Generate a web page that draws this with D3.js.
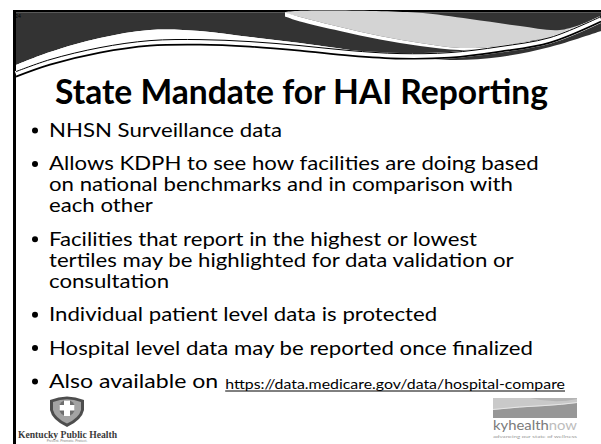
<!DOCTYPE html>
<html>
<head>
<meta charset="utf-8">
<script src="https://cdn.jsdelivr.net/npm/d3@7"></script>
<style>
  body { margin: 0; background: #fff; }
  svg { display: block; }
</style>
</head>
<body>
<div id="slide"></div>
<script>
// slide content
const slideNo = "24";
const title = "State Mandate for HAI Reporting";
const bullets = [
  ["NHSN Surveillance data"],
  ["Allows KDPH to see how facilities are doing based",
   "on national benchmarks and in comparison with",
   "each other"],
  ["Facilities that report in the highest or lowest",
   "tertiles may be highlighted for data validation or",
   "consultation"],
  ["Individual patient level data is protected"],
  ["Hospital level data may be reported once finalized"],
  ["Also available on"]
];
const linkText = "https://data.medicare.gov/data/hospital-compare";
const leftLogo = ["Kentucky Public Health", "Prevent.   Promote.   Protect."];
const rightLogo = ["kyhealth", "now", "advancing our state of wellness"];

// header swoosh outline (shape, not data)
const edgeX   = [16, 50, 100, 150, 200, 250, 300, 350, 400, 450, 500, 550, 601];
const darkY   = [65, 52, 38, 30, 31, 37, 43, 50, 55, 60, 57, 47, 31];
const swooshY = [71, 59, 47, 40, 39, 41, 45, 50, 53, 52, 46, 37, 16];
const wedgeTop = [[285, 12.5], [415, 12.5], [470, 19], [520, 26], [560, 30], [592, 21]];
const wedgeLow = [[592, 21], [560, 35], [530, 41], [500, 46], [460, 48], [420, 43], [380, 36], [340, 27], [300, 17], [285, 12.5]];
const stripeW  = [1, 1, 1.5, 2, 3, 3.5, 4, 4.5, 4];

const W = 601, H = 444;
const svg = d3.select("#slide").append("svg").attr("width", W).attr("height", H);

// frame
svg.append("rect").attr("x", 13).attr("y", 10).attr("width", W).attr("height", H).attr("fill", "#000");
svg.append("rect").attr("x", 16).attr("y", 12.5).attr("width", W).attr("height", H).attr("fill", "#fff");

// header
let pts = edgeX.map((x, i) => ({ x: x, d: darkY[i], s: swooshY[i] }));
let curve = d3.curveCatmullRom;

svg.append("path")
  .attr("d", d3.area().x(d => d.x).y0(12.5).y1(d => d.d).curve(curve)(pts))
  .attr("fill", "#333");

let left = pts.filter(d => d.x <= 350);
svg.append("path")
  .attr("d", d3.area().x(d => d.x).y0(d => d.d).y1(d => d.s).curve(curve)(left))
  .attr("fill", "#fff");

let poly = wedgeTop.concat(wedgeLow.slice(1));
svg.append("path")
  .attr("d", d3.line().curve(d3.curveCatmullRomClosed)(poly.slice(0, -1)))
  .attr("fill", "#d4d4d4");

let stripe = wedgeLow.slice(2).map((p, i) => ({ x: p[0], y: p[1], w: stripeW[i + 1] }));
svg.append("path")
  .attr("d", d3.area().x(d => d.x).y0(d => d.y).y1(d => d.y + d.w).curve(curve)(stripe))
  .attr("fill", "#fff");

let lineAt = off => d3.line().x(d => d.x).y(d => d.s + off).curve(curve)(pts);
svg.append("path").attr("d", lineAt(3.3)).attr("fill", "none").attr("stroke", "#fff").attr("stroke-width", 6.6);
svg.append("path").attr("d", lineAt(0.6)).attr("fill", "none").attr("stroke", "#000").attr("stroke-width", 1);
svg.append("path").attr("d", lineAt(5.6)).attr("fill", "none").attr("stroke", "#000").attr("stroke-width", 1.7);

svg.append("text").attr("x", 15).attr("y", 17.5)
  .attr("font-family", "Lato, sans-serif").attr("font-size", 5).attr("fill", "#000")
  .text(slideNo);

// title
svg.append("text")
  .attr("x", 55).attr("y", 104)
  .attr("font-family", "Lato, sans-serif").attr("font-weight", "bold").attr("font-size", 34)
  .attr("textLength", 493).attr("lengthAdjust", "spacingAndGlyphs")
  .attr("fill", "#000")
  .text(title);

// bullets
let firstBase = 137, pitch = 21, paraGap = 12.4, textX = 49, fs = 19;
let rows = [];
bullets.forEach((para, p) => {
  para.forEach((t, j) => {
    rows.push({ t: t, p: p, first: j === 0, n: rows.length });
  });
});
let yOf = d => firstBase + d.n * pitch + d.p * paraGap;

let body = svg.append("g")
  .attr("font-family", "Lato, sans-serif").attr("fill", "#000");

let texts = body.selectAll("text.row").data(rows).enter().append("text")
  .attr("class", "row")
  .attr("x", textX)
  .attr("y", yOf)
  .attr("font-size", d => d.p === bullets.length - 1 ? fs * 1.04 : fs)
  .text(d => d.t);

// scale widths to the reference line
let natural = new Map();
texts.each(function (d) { natural.set(d, this.getComputedTextLength()); });
let sx = 484 / natural.get(rows.find(d => d.t.startsWith("Hospital")));
texts
  .attr("textLength", d => natural.get(d) * sx)
  .attr("lengthAdjust", "spacingAndGlyphs");

body.selectAll("circle").data(rows.filter(d => d.first)).enter().append("circle")
  .attr("cx", 35).attr("cy", d => yOf(d) - 6.5).attr("r", 3);

// link
let lastRow = rows[rows.length - 1];
let linkX = textX + natural.get(lastRow) * sx + 7;
let linkEnd = 565;
let linkY = yOf(lastRow) + 0.5;
body.append("text")
  .attr("x", linkX).attr("y", linkY)
  .attr("font-size", 14)
  .attr("textLength", linkEnd - linkX).attr("lengthAdjust", "spacingAndGlyphs")
  .text(linkText);
body.append("line")
  .attr("x1", linkX).attr("x2", linkEnd)
  .attr("y1", linkY + 2.5).attr("y2", linkY + 2.5)
  .attr("stroke", "#000").attr("stroke-width", 1);

// Kentucky Public Health logo
let kph = svg.append("g");
kph.append("path")
  .attr("d", "M50,400 Q67,393 84,400 L84,410 Q82,420 67,427 Q52,420 50,410 Z")
  .attr("fill", "#4d4d4d");
kph.append("path")
  .attr("d", "M53,402 Q67,396.5 81,402 L81,410 Q79,418 67,423.5 Q55,418 53,410 Z")
  .attr("fill", "#a3a3a3");
kph.append("circle").attr("cx", 67).attr("cy", 408).attr("r", 8).attr("fill", "#6e6e6e");
kph.append("path")
  .attr("d", "M64,400.5 H70 V405 H74.5 V410.5 H70 V416 H64 V410.5 H59.5 V405 H64 Z")
  .attr("fill", "#fff");
kph.append("text")
  .attr("x", 18).attr("y", 437.5)
  .attr("font-family", "'Liberation Serif', serif").attr("font-weight", "bold").attr("font-size", 10)
  .attr("textLength", 99).attr("lengthAdjust", "spacingAndGlyphs")
  .attr("fill", "#3a3a3a")
  .text(leftLogo[0]);
kph.append("text")
  .attr("x", 67).attr("y", 442).attr("text-anchor", "middle")
  .attr("font-family", "Lato, sans-serif").attr("font-size", 3.5).attr("fill", "#888")
  .text(leftLogo[1]);

// kyhealthnow logo
let ky = svg.append("g");
ky.append("rect").attr("x", 493).attr("y", 398).attr("width", 84).attr("height", 20).attr("fill", "#c9c9c9");
ky.append("path")
  .attr("d", "M530,398 Q555,404 577,399 L577,398 Z").attr("fill", "#b4b4b4");
ky.append("path")
  .attr("d", "M493,410 Q520,407 545,406 Q562,405 577,403 L577,418 L493,418 Z").attr("fill", "#979797");
ky.append("path")
  .attr("d", "M493,409.5 Q520,406.5 545,405.5 Q562,404.5 577,402.5")
  .attr("fill", "none").attr("stroke", "#e6e6e6").attr("stroke-width", 1);
let kyText = ky.append("text")
  .attr("x", 493).attr("y", 429.5)
  .attr("font-family", "Lato, sans-serif").attr("font-size", 13)
  .attr("textLength", 84).attr("lengthAdjust", "spacingAndGlyphs");
kyText.append("tspan").attr("fill", "#7a7a7a").text(rightLogo[0]);
kyText.append("tspan").attr("fill", "#bdbdbd").text(rightLogo[1]);
ky.append("text")
  .attr("x", 493).attr("y", 438)
  .attr("font-family", "Lato, sans-serif").attr("font-size", 3.8)
  .attr("textLength", 84).attr("lengthAdjust", "spacingAndGlyphs")
  .attr("fill", "#999")
  .text(rightLogo[2]);
</script>
</body>
</html>
